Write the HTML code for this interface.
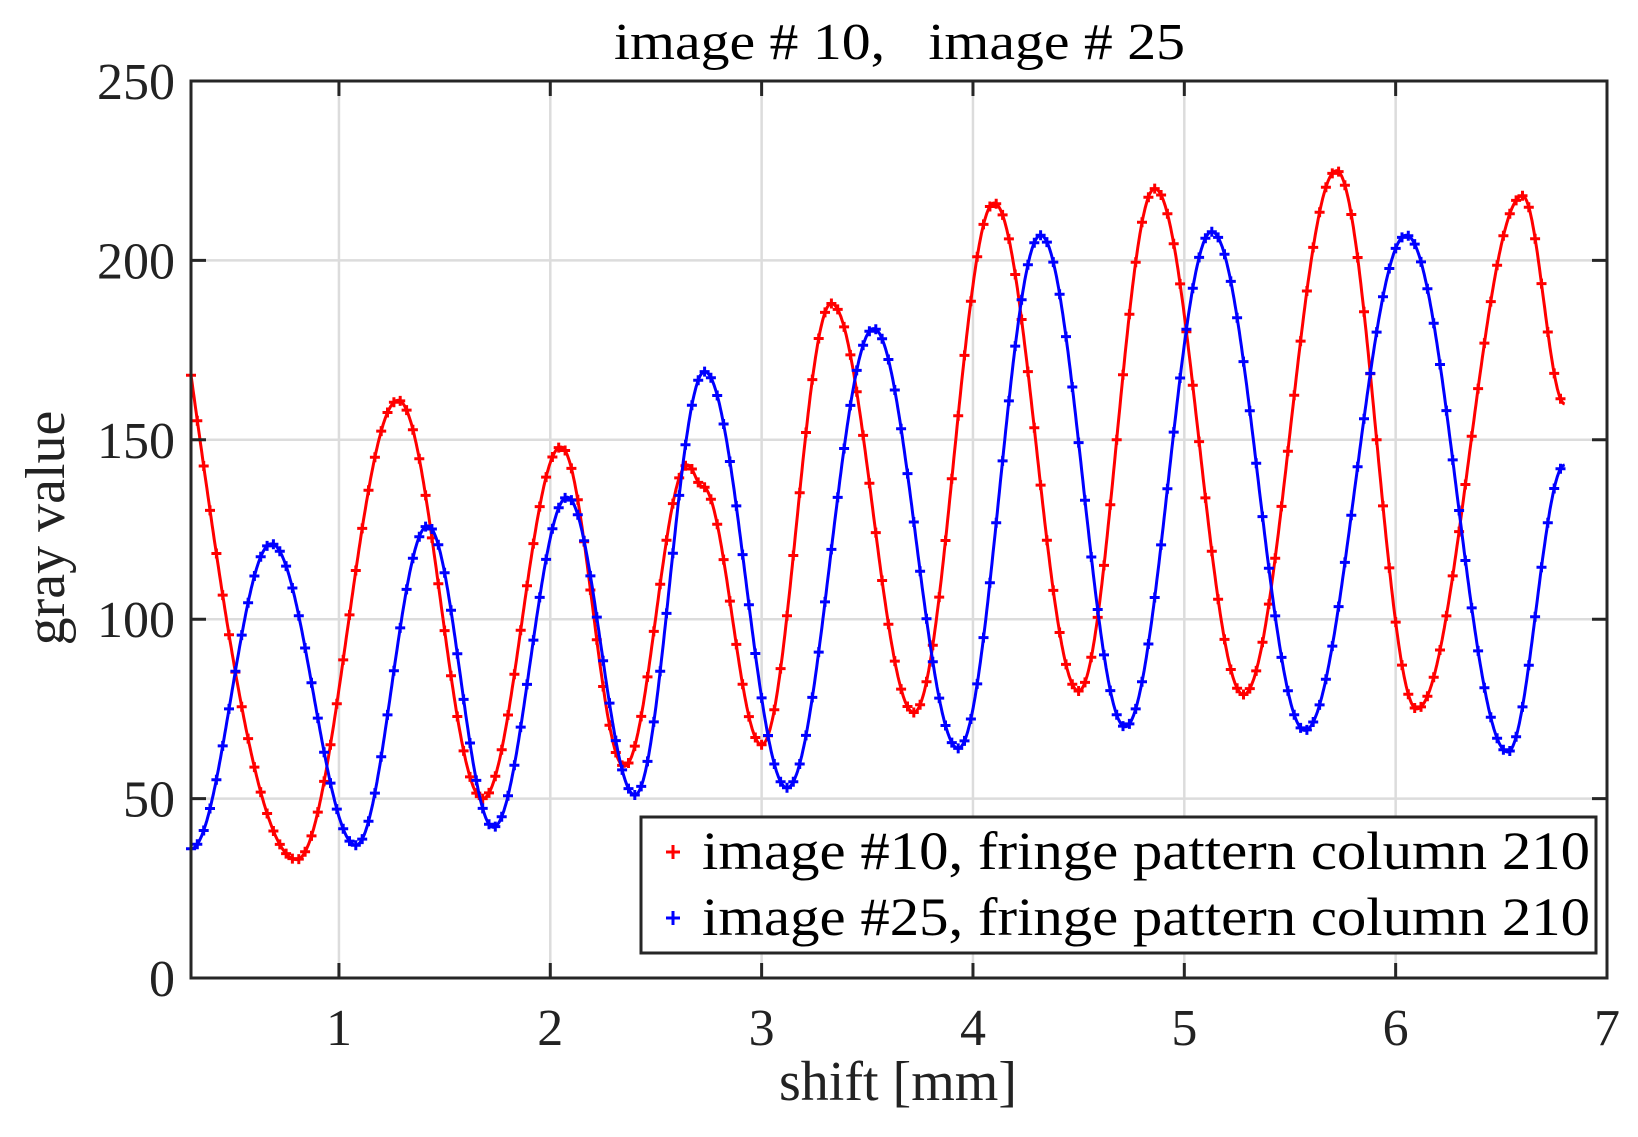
<!DOCTYPE html>
<html><head><meta charset="utf-8"><style>
html,body{margin:0;padding:0;background:#fff;}
svg{display:block;}
text{font-family:"Liberation Serif",serif;fill:#222;}
</style></head><body>
<svg id="s" width="1638" height="1137" viewBox="0 0 1638 1137" xmlns="http://www.w3.org/2000/svg">
<rect width="1638" height="1137" fill="#fff"/>
<g id="grid" stroke="#dcdcdc" stroke-width="2.5"></g>
<g id="data"></g>
<g id="ax" stroke="#262626" stroke-width="3" fill="none"></g>
<g id="labels"></g>
<rect x="641" y="817" width="955" height="136" fill="#fff" stroke="#262626" stroke-width="3"/>
<path d="M666 852h14M673 845v14" stroke="#f00" stroke-width="3"/>
<path d="M666 918h14M673 911v14" stroke="#00f" stroke-width="3"/>
<text x="702" y="869" font-size="54" textLength="888" lengthAdjust="spacingAndGlyphs" style="fill:#000">image #10, fringe pattern column 210</text>
<text x="702" y="935" font-size="54" textLength="888" lengthAdjust="spacingAndGlyphs" style="fill:#000">image #25, fringe pattern column 210</text>
<text x="614" y="59" font-size="52" xml:space="preserve" textLength="571" lengthAdjust="spacingAndGlyphs" style="fill:#000;white-space:pre">image # 10,   image # 25</text>
<text x="898" y="1100" font-size="56" text-anchor="middle">shift [mm]</text>
<text transform="translate(64,528) rotate(-90)" font-size="56" text-anchor="middle">gray value</text>
</svg>
<script>
var L=191,R=1607,T=81,B=978,X0=0.3,X1=7;
function px(x){return L+(x-X0)/(X1-X0)*(R-L);}
function py(y){return B-y/250*(B-T);}
var ns="http://www.w3.org/2000/svg";
function el(p,tag,a,txt){var e=document.createElementNS(ns,tag);for(var k in a)e.setAttribute(k,a[k]);if(txt!=null)e.textContent=txt;document.getElementById(p).appendChild(e);}
var g="",a="";
for(var i=1;i<=6;i++){g+="M"+px(i)+" "+T+"V"+B;}
for(var j=50;j<=200;j+=50){g+="M"+L+" "+py(j)+"H"+R;}
el("grid","path",{d:g});
a="M"+L+" "+T+"H"+R+"V"+B+"H"+L+"Z";
for(var i=1;i<=6;i++){a+="M"+px(i)+" "+B+"v-15M"+px(i)+" "+T+"v15";}
for(var j=50;j<=200;j+=50){a+="M"+L+" "+py(j)+"h15M"+R+" "+py(j)+"h-15";}
el("ax","path",{d:a});
for(var i=1;i<=7;i++)el("labels","text",{x:px(i),y:1045,"font-size":52,"text-anchor":"middle"},""+i);
for(var j=0;j<=250;j+=50)el("labels","text",{x:175,y:py(j)+18,"font-size":52,"text-anchor":"end"},""+j);
var red=[[0.3,168],[0.8,33],[1.28,161],[1.68,50],[2.05,148],[2.35,59],[2.65,143],[2.72,137],[3.0,65],[3.33,188],[3.72,74],[4.1,216],[4.5,80],[4.86,220],[5.28,79],[5.72,225],[6.1,75],[6.6,218],[6.8,160]];
var blue=[[0.3,36],[0.68,121],[1.08,37],[1.42,126],[1.73,42],[2.08,134],[2.4,51],[2.73,169],[3.12,53],[3.53,181],[3.93,64],[4.32,207],[4.72,70],[5.13,208],[5.57,69],[6.05,207],[6.53,63],[6.8,143]];
function f(pts,x){for(var k=0;k<pts.length-1;k++){var p=pts[k],q=pts[k+1];if(x>=p[0]&&x<=q[0]){var t=(x-p[0])/(q[0]-p[0]);
if(k==0&&pts===red){return p[1]+(q[1]-p[1])*Math.sin(Math.PI*t/2);}
return p[1]+(q[1]-p[1])*(1-Math.cos(Math.PI*t))/2;}}return pts[pts.length-1][1];}
function draw(pts,col){var d="",m="";for(var x=0.3;x<=6.8001;x+=0.005){d+=(d?"L":"M")+px(x).toFixed(1)+" "+py(f(pts,x)).toFixed(1);}
for(var x=0.3;x<=6.8001;x+=0.03){var X=px(x),Y=py(f(pts,x));m+="M"+(X-5).toFixed(1)+" "+Y.toFixed(1)+"h10M"+X.toFixed(1)+" "+(Y-5).toFixed(1)+"v10";}
el("data","path",{d:d,stroke:col,"stroke-width":3,fill:"none"});
el("data","path",{d:m,stroke:col,"stroke-width":3,fill:"none"});}
draw(red,"#f00");draw(blue,"#00f");
</script>
</body></html>
